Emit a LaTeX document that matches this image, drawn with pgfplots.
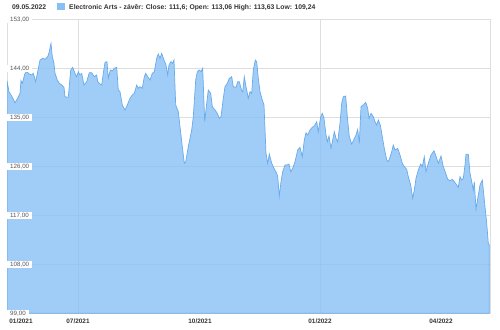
\documentclass[border=0pt]{standalone}
\usepackage{fontspec}
\setmainfont{Liberation Sans}
\usepackage{pgfplots}
\pgfplotsset{compat=1.18}
\definecolor{fillc}{RGB}{135,192,245}
\definecolor{linec}{RGB}{105,170,232}
\definecolor{gridc}{RGB}{222,222,222}
\definecolor{txtc}{RGB}{51,51,51}
\definecolor{tickc}{RGB}{85,85,85}
\pgfplotsset{eaframe/.style={
  at={(7pt,15.7pt)}, anchor=south west,
  scale only axis, width=483pt, height=294pt,
  xmin=7, xmax=490, ymin=99, ymax=153,
  major tick length=0pt,
  tick style={draw=none},
  /pgf/number format/assume math mode=true,
}}
\begin{document}
\begin{tikzpicture}
\path[use as bounding box] (0,0) rectangle (500pt,329pt);
\node[anchor=west, inner sep=0pt, font=\fontsize{6.8}{8}\selectfont\bfseries, text=txtc] at (12pt,322pt)
  {09.05.2022\hspace{11pt}\textcolor{fillc}{\rule[-1.2pt]{8pt}{7pt}}\hspace{4pt}Electronic Arts - závěr: Close: 111,6; Open: 113,06 High: 113,63 Low: 109,24};
\begin{axis}[
  eaframe,
  axis line style={gridc},
  xtick={78,320},
  xticklabels={},
  xmajorgrids,
  ytick={99,108,117,126,135,144,153},
  yticklabels={},
  ymajorgrids,
  grid style={gridc, line width=0.6pt},
]
\addplot[draw=linec, line width=0.7pt, fill=fillc, fill opacity=0.8] coordinates {
(7,141.72)(9,139.70)(12,138.78)(15,137.68)(17.7,138.49)(20,139.41)(21,141.72)(22.3,141.24)
(25,143.08)(26.7,143.37)(29.3,142.95)(31.7,142.77)(33.3,143.08)(35.7,141.54)(37.7,143.37)
(40,145.52)(42.7,145.84)(45,145.65)(47.7,146.13)(49.3,147.05)(51,148.59)(52.3,146.13)
(54,144.92)(55,143.08)(57.3,141.85)(59.3,141.24)(61.7,140.93)(64,140.51)(65,138.78)
(68.3,138.67)(70.7,143.69)(72.7,144.18)(75,143.08)(76.7,142.46)(78.3,143.37)(80,142.77)
(81.7,143.08)(84,140.93)(86.7,141.54)(89.3,143.19)(91.7,143.19)(94.3,142.46)(96.7,142.77)
(97.7,141.54)(100,141.12)(101.7,140.93)(103.3,143.08)(105,145.10)(107,145.21)(108.3,142.16)
(110.3,143.69)(112.3,143.50)(114.3,144.00)(116.7,144.18)(118.3,140.01)(120,139.70)
(122.3,137.26)(125,136.34)(127.3,137.26)(130,138.49)(132.3,139.09)(134.3,139.41)
(136.7,140.93)(138.3,140.33)(140,140.62)(142.3,140.33)(144.3,142.46)(145.7,143.08)
(147.7,142.46)(150,141.85)(152.3,143.08)(154.3,143.37)(156.7,145.84)(158.3,146.63)
(160,145.84)(161.7,146.75)(164,145.52)(166,144.61)(167.7,142.77)(169,144.61)(171,145.21)
(172.7,144.92)(174,145.52)(175.7,137.26)(178.3,136.03)(180,133.27)(182.3,129.60)
(184.3,126.55)(185.7,126.84)(188.3,129.60)(191.7,132.67)(193.3,135.11)(195.7,141.85)
(197.3,143.37)(199.3,143.69)(201,143.37)(202.7,144.00)(204.7,134.19)(206.7,137.57)
(208.3,140.01)(210.7,139.41)(212.3,136.95)(215,136.34)(217.3,135.73)(219.3,134.81)
(221,135.11)(223.3,138.49)(225,140.62)(227.3,141.24)(229.3,142.16)(231.7,142.46)
(233.3,140.62)(236,140.51)(237.7,141.54)(239.3,141.54)(241.7,139.88)(242.7,139.70)
(244.3,142.46)(246,140.62)(248.3,138.49)(250,139.70)(251.7,139.41)(253.3,143.69)
(255.3,145.52)(256.7,145.21)(258.3,142.16)(260,139.70)(262.3,138.18)(264,137.26)
(266,128.39)(267.7,126.55)(269.3,128.26)(271.7,126.55)(274,125.63)(276.7,124.71)
(277.7,124.09)(279.3,120.54)(281,123.17)(282.7,125.01)(285,126.24)(287.3,126.24)
(289,126.42)(290.7,125.01)(292.7,125.63)(295,126.84)(297.7,128.99)(300,129.49)
(302.3,127.76)(304.3,130.83)(306,132.17)(307.7,131.75)(310,132.67)(312.3,133.16)
(314.3,133.40)(316.7,134.19)(318.3,132.35)(320.7,135.11)(322.3,135.73)(324,134.81)
(326,131.75)(327.3,130.52)(329,131.56)(331,129.30)(332.7,130.83)(334.3,132.35)
(336,131.14)(337.7,130.52)(340,133.90)(341.7,137.57)(343.3,138.78)(345.7,138.91)
(347.3,135.11)(349.3,131.44)(351.7,130.09)(354,130.96)(356,131.75)(357.7,132.79)
(359.3,130.22)(361,136.95)(363.3,137.26)(365.7,137.75)(367.7,136.65)(369,134.81)
(371,135.73)(373.3,135.11)(375,134.19)(376.7,133.58)(378.3,134.50)(380.3,133.58)
(382.3,131.44)(384.3,129.30)(386.7,127.16)(388.3,126.84)(390,127.65)(391.7,128.68)
(393.3,129.91)(395,128.99)(397.7,129.30)(400,128.07)(402.3,126.55)(404.3,125.92)
(406.7,125.45)(408.3,124.09)(410.7,122.56)(412.7,120.12)(414.3,121.64)(416,123.79)
(418.3,125.32)(420.7,126.42)(422.3,125.92)(424.3,127.76)(426,125.01)(428.3,126.55)
(431,128.07)(434,128.86)(436.7,127.47)(438.3,126.55)(441,127.89)(443.3,125.92)
(445.7,124.71)(447.7,123.61)(450,123.35)(452.3,123.61)(454.3,123.17)(456.7,122.56)
(458.3,122.14)(460,124.09)(461.7,123.48)(463.3,123.79)(465,126.24)(466,128.20)
(468.3,128.20)(470,124.71)(471.7,123.17)(473.3,121.64)(474.3,123.17)(476,118.10)
(478.3,120.73)(480,122.56)(482.3,123.48)(484.3,119.81)(486.7,115.53)(488.3,111.85)
(489.3,111.60)
} \closedcycle;
\end{axis}
\begin{axis}[
  eaframe,
  axis line style={draw=none},
  xtick={21,78,200,320,441},
  xticklabels={01/2021,07/2021,10/2021,01/2022,04/2022},
  xticklabel style={font=\fontsize{6.4}{7}\selectfont\bfseries, text=txtc, yshift=-2pt},
  ytick={99,108,117,126,135,144,153},
  yticklabels={{99,00},{108,00},{117,00},{126,00},{135,00},{144,00},{153,00}},
  yticklabel style={anchor=west, fill=white, inner xsep=3pt, inner ysep=1pt, font=\fontsize{6.2}{7}\selectfont, text=tickc},
]
\end{axis}
\end{tikzpicture}
\end{document}
